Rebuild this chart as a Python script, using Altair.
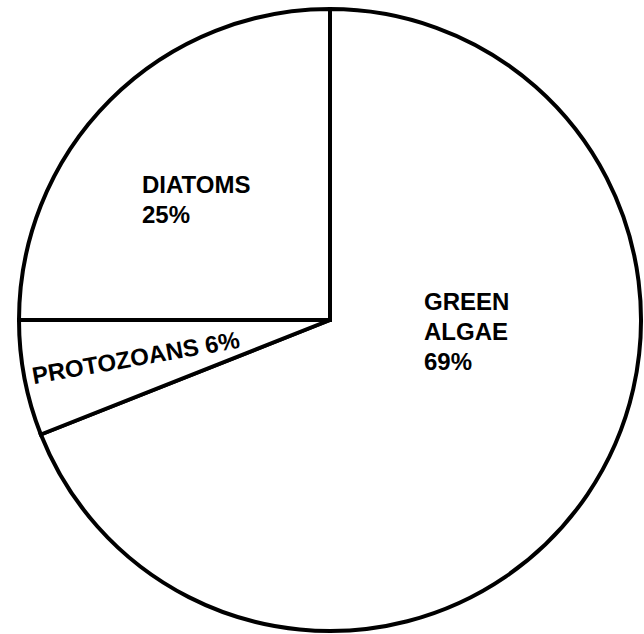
import altair as alt
import pandas as pd

# Plankton composition (percent of total)
categories = ["GREEN ALGAE", "PROTOZOANS", "DIATOMS"]
shares = [69, 6, 25]
draw_order = [1, 2, 3]

df = pd.DataFrame({"category": categories, "share": shares, "ord": draw_order})

CX, CY, R = 330, 320, 311
FONT = "Liberation Sans"

pie = (
    alt.Chart(df)
    .mark_arc(fill="white", stroke="black", strokeWidth=4, radius=R, strokeJoin="miter")
    .encode(
        theta=alt.Theta("share:Q", stack=True, scale=alt.Scale(range=[0, 6.283185307179586])),
        order=alt.Order("ord:Q"),
        x=alt.value(CX),
        y=alt.value(CY),
    )
)

label_style = dict(font=FONT, fontWeight="bold", fontSize=24, color="black")


def block(lines, x, y, **kw):
    return (
        alt.Chart(pd.DataFrame({"t": [lines]}))
        .mark_text(align="left", baseline="alphabetic", lineHeight=30, **label_style, **kw)
        .encode(text="t:N", x=alt.value(x), y=alt.value(y))
    )


green_words = categories[0].split()
green = block([green_words[0], green_words[1], f"{shares[0]}%"], 424, 310)
diatoms = block([categories[2], f"{shares[2]}%"], 142, 193)
protozoa = (
    alt.Chart(pd.DataFrame({"t": [f"{categories[1]} {shares[1]}%"]}))
    .mark_text(align="center", baseline="middle", angle=350, **label_style)
    .encode(text="t:N", x=alt.value(136), y=alt.value(359))
)

chart = (
    alt.layer(pie, green, diatoms, protozoa)
    .properties(width=644, height=634, autosize=alt.AutoSizeParams(type="none"), padding=0, background="white")
    .configure_view(stroke=None)
)

chart.save("out.html", embed_options={"renderer": "svg", "actions": False})
